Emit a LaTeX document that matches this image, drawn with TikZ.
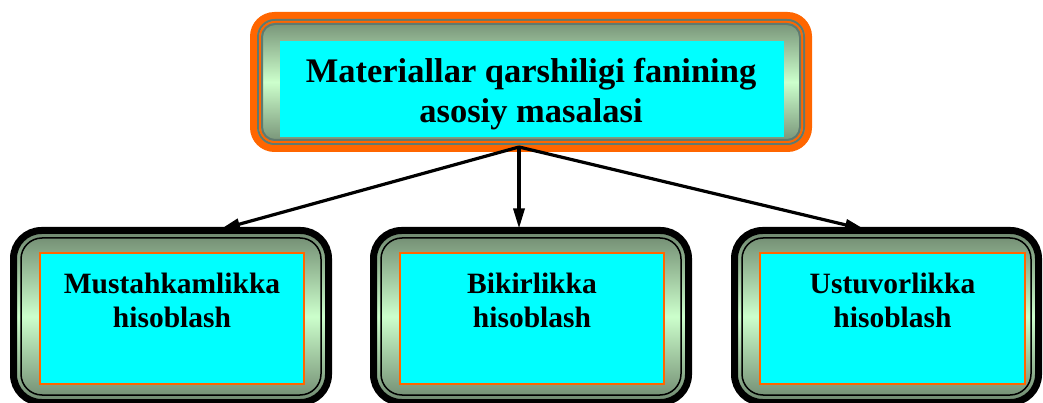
\documentclass[tikz,border=0pt]{standalone}
\usepackage{fontspec}
\setmainfont{Liberation Serif}
\usetikzlibrary{arrows.meta,calc}
\definecolor{orangeC}{HTML}{FF6600}
\definecolor{framedark}{HTML}{6E876E}
\definecolor{framelight}{HTML}{CCFFCC}
\definecolor{grayline}{HTML}{5E7A70}
\definecolor{cyanC}{HTML}{00FFFF}
\tikzset{
  frameshade/.style={top color=framedark, bottom color=framedark, middle color=framelight, inner sep=0pt, outer sep=0pt},
  topframe/.style={frameshade, rounded corners=21pt, draw=orangeC, line width=7pt, minimum width=555pt, minimum height=133pt},
  ringline/.style={inner sep=0pt, outer sep=0pt, line width=2pt},
  botframe/.style={frameshade, rounded corners=28pt, draw=black, line width=7pt, minimum height=172pt},
  botring/.style={inner sep=0pt, outer sep=0pt, draw=black, line width=1.5pt, rounded corners=21pt, minimum height=157pt},
  topcyan/.style={fill=cyanC, inner sep=0pt, outer sep=0pt, minimum width=504pt, minimum height=96pt},
  botcyan/.style={fill=cyanC, draw=orangeC, line width=1.5pt, inner sep=0pt, outer sep=0pt, minimum height=131pt},
  toptext/.style={font=\bfseries\fontsize{34.5}{40}\selectfont, align=center, inner sep=0pt},
  bottext/.style={font=\bfseries\fontsize{29.5}{34}\selectfont, align=center, inner sep=0pt},
  conn/.style={line width=3.2pt, -{Triangle[length=20pt,width=11pt]}},
}
\begin{document}
\begin{tikzpicture}[x=1pt,y=-1pt]
\useasboundingbox (0,0) rectangle (1043,403);
% top box
\node[topframe] (tframe) at (531,82) {};
\node[ringline, draw=grayline, rounded corners=17pt, minimum width=546pt, minimum height=124pt] (tring1) at (tframe.center) {};
\node[ringline, draw=orangeC, rounded corners=15pt, minimum width=542pt, minimum height=120pt] (tring2) at (tframe.center) {};
\node[ringline, draw=grayline, rounded corners=13pt, minimum width=538pt, minimum height=116pt] (tring3) at (tframe.center) {};
\node[topcyan] (tcyan) at (532,89) {};
\node[toptext] (ttext) at (531,94) {Materiallar qarshiligi fanining\\asosiy masalasi};
% bottom boxes
\node[botframe, minimum width=315pt] (lframe) at (171,316.5) {};
\node[botring, minimum width=300pt] (lring) at (lframe.center) {};
\node[botcyan, minimum width=264pt] (lcyan) at (172,318.5) {};
\node[bottext] (ltext) at ($(lcyan.center)+(0,-18.5)$) {Mustahkamlikka\\hisoblash};
\node[botframe, minimum width=315pt] (mframe) at (531,316.5) {};
\node[botring, minimum width=300pt] (mring) at (mframe.center) {};
\node[botcyan, minimum width=264pt] (mcyan) at (532,318.5) {};
\node[bottext] (mtext) at ($(mcyan.center)+(0,-18.5)$) {Bikirlikka\\hisoblash};
\node[botframe, minimum width=304pt] (rframe) at (886.5,316.5) {};
\node[botring, minimum width=289pt] (rring) at (rframe.center) {};
\node[botcyan, minimum width=265pt] (rcyan) at (892.5,318.5) {};
\node[bottext] (rtext) at ($(rcyan.center)+(0,-18.5)$) {Ustuvorlikka\\hisoblash};
% connectors
\coordinate (hub) at ($(tframe.south)+(-12,-1.5)$);
\coordinate (lend) at ($(lframe.north)+(49,-1)$);
\coordinate (mend) at ($(mframe.north)+(-12,-2)$);
\coordinate (rend) at ($(rframe.north)+(-21.5,-1)$);
\draw[conn] (hub) -- (lend);
\draw[conn] (hub) -- (mend);
\draw[conn] (hub) -- (rend);
\end{tikzpicture}
\end{document}
